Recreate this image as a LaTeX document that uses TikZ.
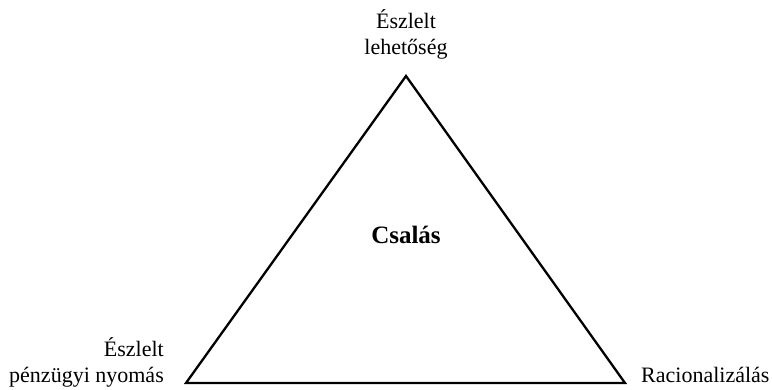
\documentclass[tikz,border=0pt]{standalone}
\usepackage{fontspec}
\setmainfont{Liberation Serif}
\begin{document}
\begin{tikzpicture}[x=1pt,y=-1pt,
  lbl/.style={inner sep=0pt,font=\fontsize{22}{26}\selectfont},
  side/.style={draw=black,line width=2.3pt,line join=miter}]
\useasboundingbox (0,0) rectangle (772,390);
\coordinate (top) at (406,76);
\coordinate (bl) at (186,383);
\coordinate (br) at (625,383);
\draw[side] (bl) -- (top) -- (br) -- cycle;
\node[lbl,anchor=base] (opp) at (406,55) {\begin{tabular}[b]{@{}c@{}}Észlelt\\lehetőség\end{tabular}};
\node[lbl,anchor=base east] (press) at (164,383) {\begin{tabular}[b]{@{}r@{}}Észlelt\\pénzügyi nyomás\end{tabular}};
\node[lbl,anchor=base west] (rat) at (641,383) {Racionalizálás};
\node[inner sep=0pt,anchor=base,font=\fontsize{25}{30}\selectfont\bfseries] (fraud) at (406,244) {Csalás};
\end{tikzpicture}
\end{document}
